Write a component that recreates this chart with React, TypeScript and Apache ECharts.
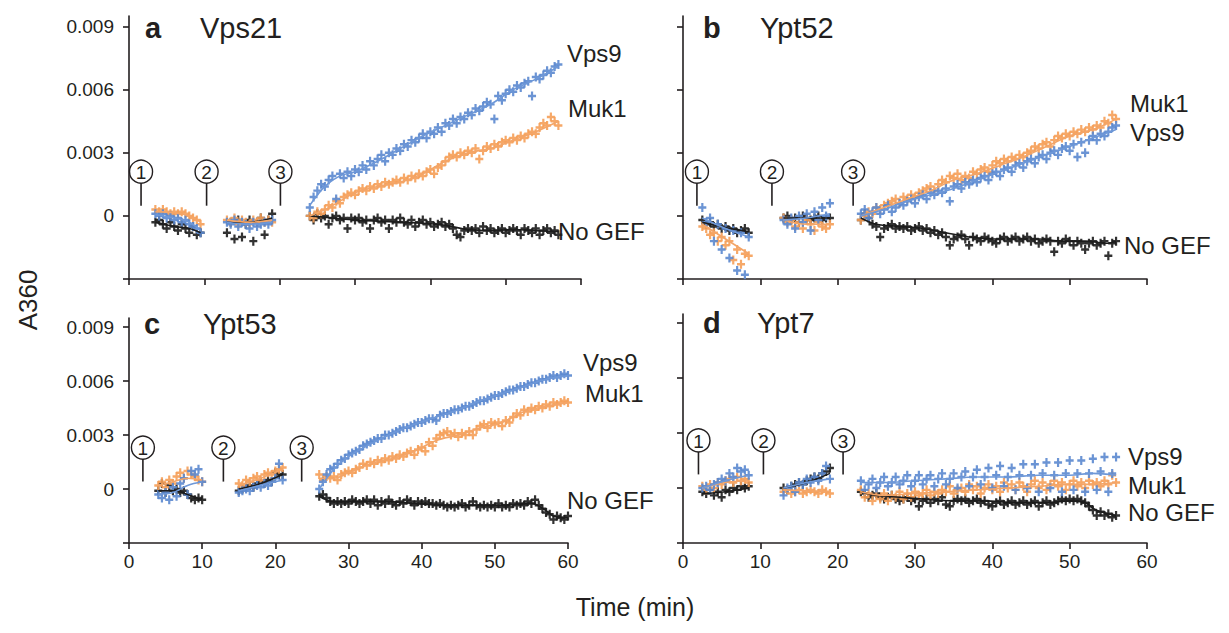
import React, { useEffect, useRef } from "react";
import * as echarts from "echarts";

// All absorbance values below are in units of 0.0001 A360.
const UNIT = 1e-4;
const STEP = 0.5; // minutes between readings

// ---------- Panel a : Vps21 ----------
const A_STARTS = [3.5, 13, 24];
const A_VPS9 = [
  [1, 0, 1, -1, 0, -2, -1, -3, -2, -4, -5, -6, -8],
  [-3, -4, -2, -5, -3, -4, -6, -3, -5, -4, -3, -4, -2],
  [4, 9, 12, 15, 14, 17, 19, 8, 20, 18, 21, 19, 22, 21, 24, 22, 26, 24, 27, 29, 26, 30, 29, 32, 31, 34, 33, 36, 35, 37, 39, 37, 40, 39, 42, 40, 44, 43, 46, 44, 47, 46, 49, 48, 51, 50, 52, 54, 53, 46, 57, 55, 58, 60, 59, 62, 61, 63, 64, 57, 66, 65, 67, 69, 68, 71, 72],
];
const A_MUK1 = [
  [3, 2, 3, 2, 1, 2, 1, 2, 1, 0, -1, -2, -4],
  [-2, -3, -1, -4, -2, -3, -4, -2, -3, -1, -3, -2, -3],
  [0, -1, 2, 1, 3, 5, 4, 7, 6, 9, 10, 11, 10, 12, 13, 12, 14, 13, 15, 14, 16, 15, 16, 17, 16, 18, 17, 19, 18, 20, 19, 21, 22, 20, 23, 24, 26, 28, 29, 28, 30, 29, 31, 30, 32, 27, 31, 33, 32, 34, 33, 35, 36, 35, 37, 36, 38, 37, 39, 40, 39, 42, 44, 43, 47, 45, 43],
];
const A_NOGEF = [
  [-3, -2, -4, -6, -3, -5, -7, -4, -6, -8, -5, -9, -8],
  [-8, -3, -11, -2, -10, -4, -2, -12, -3, -1, -9, -2, 1],
  [0, -2, 1, -1, 0, -4, -1, 0, -2, -1, -6, -1, -2, -1, -3, -2, -6, -2, -1, -3, -2, -6, -2, -3, -1, -3, -4, -2, -5, -3, -2, -4, -3, -5, -4, -3, -5, -4, -6, -9, -10, -7, -6, -7, -6, -8, -5, -7, -6, -8, -7, -6, -8, -7, -6, -7, -9, -6, -7, -8, -6, -9, -7, -6, -8, -7, -9],
];
const A_VPS9_FIT = [
  [[3.5, 0.5], [6, -1], [8, -3], [9.5, -7]],
  [[13, -3], [16, -4], [19, -3]],
  [[24, 5], [26, 14], [28, 19], [30, 21], [33, 26], [36, 32], [39, 38], [42, 43], [45, 48], [48, 53], [51, 60], [54, 65], [57, 71]],
];
const A_MUK1_FIT = [
  [[3.5, 2], [6, 1.5], [8, 0], [9.5, -3]],
  [[13, -2], [16, -3], [19, -2]],
  [[24, 0], [26, 3], [28, 7], [30, 11], [33, 14], [36, 16], [39, 20], [42, 26], [45, 30], [48, 32], [51, 36], [54, 40], [57, 45]],
];
const A_NOGEF_FIT = [
  [[3.5, -3], [6, -5], [8, -6], [9.5, -8]],
  [[13, -3], [16, -3], [19, -1]],
  [[24, 0], [27, -1], [30, -2], [33, -2.5], [36, -3], [39, -3.5], [42, -4.5], [45, -6.5], [48, -7], [51, -6.5], [54, -7], [57, -7.5]],
];
const A_ADDITIONS = [1.6, 10.3, 20.1];

// ---------- Panel b : Ypt52 ----------
const B_STARTS = [2.5, 13, 23];
const B_VPS9 = [
  [4, -3, -1, -12, -4, -16, -6, -20, -7, -26, -8, -28, -10],
  [-2, -4, -1, -6, 0, -3, 1, -7, 2, -2, 4, 0, 6],
  [1, 3, -1, 2, 4, 1, 3, 5, 2, 4, 6, 5, 7, 8, 6, 9, 10, 8, 11, 10, 12, 11, 13, 7, 14, 15, 13, 16, 15, 17, 16, 18, 19, 17, 20, 21, 19, 22, 23, 21, 24, 25, 23, 26, 27, 25, 28, 29, 27, 30, 31, 29, 32, 33, 31, 34, 28, 35, 30, 36, 38, 36, 39, 38, 40, 42, 43],
];
const B_MUK1 = [
  [-5, -6, -9, -8, -12, -10, -14, -12, -21, -16, -23, -18, -19],
  [-1, -3, -2, -5, -3, -6, -2, -4, -7, -3, -5, -6, -4],
  [-2, 0, 2, 1, 4, 3, 5, 6, 7, 8, 6, 9, 8, 10, 9, 11, 12, 13, 14, 12, 15, 17, 16, 19, 18, 20, 17, 19, 18, 21, 20, 22, 23, 21, 24, 26, 25, 27, 26, 28, 27, 29, 28, 30, 31, 33, 32, 34, 35, 33, 36, 38, 37, 39, 38, 40, 39, 41, 40, 42, 41, 43, 42, 45, 44, 48, 46],
];
const B_NOGEF = [
  [-2, -4, -3, -5, -4, -6, -5, -7, -6, -8, -7, -6, -8],
  [-1, 0, -2, -1, -3, 0, -1, -2, -1, 0, -2, -1, -1],
  [-2, 1, -1, -4, -5, -10, -6, -5, -4, -6, -5, -6, -5, -7, -6, -5, -7, -6, -8, -7, -9, -8, -10, -14, -11, -10, -9, -11, -14, -10, -11, -12, -10, -11, -12, -13, -11, -10, -12, -11, -10, -12, -11, -10, -12, -11, -13, -12, -11, -12, -17, -12, -13, -11, -12, -14, -12, -13, -16, -13, -12, -14, -13, -12, -19, -13, -12],
];
const B_VPS9_FIT = [
  [[2.5, -1], [5.5, -6], [8.5, -10]],
  [[13, -2], [16, -1], [19, 1]],
  [[23, 0], [26, 3], [29, 7], [32, 10], [35, 13], [38, 17], [41, 21], [44, 25], [47, 29], [50, 33], [53, 37], [56, 41]],
];
const B_MUK1_FIT = [
  [[2.5, -4], [5.5, -11], [8.5, -18]],
  [[13, -2], [16, -4], [19, -4]],
  [[23, 0], [26, 4], [29, 8], [32, 12], [35, 17], [38, 20], [41, 24], [44, 28], [47, 33], [50, 38], [53, 41], [56, 46]],
];
const B_NOGEF_FIT = [
  [[2.5, -3], [5.5, -5.5], [8.5, -7.5]],
  [[13, -1], [19, -1]],
  [[23, -1], [25, -4], [28, -5], [31, -6], [34, -8], [37, -10], [40, -11], [43, -11], [46, -11], [49, -12], [52, -12], [55, -13], [56, -12]],
];
const B_ADDITIONS = [1.8, 11.5, 22.0];

// ---------- Panel c : Ypt53 ----------
const C_STARTS = [4, 15, 26];
const C_VPS9 = [
  [-3, -5, -2, -6, 1, -4, 3, 6, -3, 10, 8, 11, 4],
  [-2, -1, 0, -1, 1, 2, 1, 3, 2, 4, 6, 14, 5],
  [0, 4, 8, 11, 12, 14, 16, 17, 19, 20, 21, 22, 24, 25, 26, 27, 28, 28, 30, 30, 31, 32, 33, 34, 34, 35, 36, 37, 37, 38, 39, 39, 38, 41, 42, 42, 43, 44, 44, 45, 46, 46, 47, 48, 49, 49, 50, 51, 52, 52, 53, 54, 55, 55, 56, 57, 57, 58, 59, 59, 60, 61, 61, 62, 63, 62, 63, 64, 63],
];
const C_MUK1 = [
  [2, 4, 1, 5, 3, 7, 9, 6, 10, 8, 7, 5, 4],
  [3, 2, 5, 4, 6, 7, 5, 8, 9, 8, 10, 11, 12],
  [8, 5, 7, 6, 7, 5, 8, 9, 10, 9, 11, 12, 14, 13, 15, 14, 16, 15, 17, 16, 18, 17, 19, 18, 20, 21, 19, 22, 23, 21, 26, 24, 28, 30, 31, 32, 30, 31, 29, 31, 30, 32, 30, 33, 35, 36, 34, 37, 36, 37, 35, 38, 37, 40, 42, 41, 44, 43, 45, 44, 46, 45, 47, 46, 48, 47, 48, 49, 48],
];
const C_NOGEF = [
  [-1, 3, -2, 2, -1, 0, -2, -1, -3, -5, -6, -5, -6],
  [-1, 0, 1, 2, 1, 3, 4, 3, 5, 4, 9, 8, 8],
  [-4, -3, -5, -7, -8, -7, -8, -7, -8, -6, -7, -8, -7, -6, -8, -6, -9, -7, -8, -6, -8, -9, -7, -8, -6, -7, -9, -7, -8, -7, -8, -8, -9, -8, -9, -10, -9, -10, -9, -8, -10, -9, -7, -9, -10, -9, -10, -9, -10, -8, -10, -9, -10, -8, -9, -8, -9, -7, -8, -6, -9, -11, -13, -14, -17, -15, -16, -17, -15],
];
const C_VPS9_FIT = [
  [[4, -3], [6, -2], [8, 2], [10, 4]],
  [[15, -1], [18, 2], [21, 5]],
  [[26, 0], [28, 11], [30, 18], [33, 25], [36, 31], [39, 36], [42, 40], [45, 44], [48, 49], [51, 53], [54, 57], [57, 61], [60, 63]],
];
const C_MUK1_FIT = [
  [[4, 2], [6, 4], [8, 6], [10, 5]],
  [[15, 2], [18, 6], [21, 11]],
  [[26, 6], [28, 6], [30, 9], [33, 14], [36, 17], [39, 21], [42, 27], [45, 30], [48, 34], [51, 37], [54, 43], [57, 46], [60, 48]],
];
const C_NOGEF_FIT = [
  [[4, -1], [6, -1], [8, -3], [10, -6]],
  [[15, 0], [18, 3], [21, 8]],
  [[26, -4], [28, -7], [31, -7], [35, -7], [39, -8], [43, -9], [47, -9], [51, -9], [55, -8], [57, -12], [58, -15], [60, -16]],
];
const C_ADDITIONS = [1.9, 12.9, 23.6];

// ---------- Panel d : Ypt7 ----------
const D_STARTS = [2.5, 13, 23];
const D_VPS9 = [
  [0, 1, -1, 2, 3, 5, 4, 8, 6, 11, 9, 10, 7],
  [-4, 0, 1, -2, 3, 2, 5, 3, 6, 4, 8, 12, 5],
  [4, -1, 2, 5, 0, 3, 6, 1, 3, 6, 2, 4, 7, 1, 4, 7, 2, 5, 7, 1, 5, 8, 2, 5, 8, 0, 6, 9, 1, 6, 10, 2, 6, 11, 0, 7, 12, 1, 6, 11, -1, 7, 13, 0, 7, 13, -2, 8, 14, 0, 7, 14, -2, 8, 15, -1, 8, 15, -2, 8, 16, -1, 9, 17, -2, 8, 17],
];
const D_MUK1 = [
  [1, -1, 2, 0, 3, 2, 4, 5, 3, 6, 4, 5, 3],
  [-2, -1, -3, -2, -1, -3, -2, -1, -2, -3, -1, -2, -3],
  [-1, -5, -3, -7, -4, -6, -3, -7, -4, -5, -2, -6, -3, -5, -2, -4, -3, -1, -4, -2, -3, -1, -2, 1, -3, -1, 0, -2, 2, -1, 1, -3, 0, 2, -1, 1, -2, 3, 0, 2, -1, 3, 1, -2, 2, 4, 0, 3, -1, 2, 4, 1, 3, -1, 2, 4, 1, 3, 0, 4, 2, 3, 1, 4, 2, 7, 3],
];
const D_NOGEF = [
  [-2, -3, -1, -4, -2, -5, -1, -2, 0, -1, 1, 0, 1],
  [0, -1, 1, 2, 3, 2, 4, 5, 6, 5, 8, 9, 11],
  [-2, -3, -5, -4, -3, -5, -6, -5, -4, -6, -7, -6, -5, -7, -6, -10, -7, -6, -8, -6, -7, -5, -9, -10, -7, -6, -7, -6, -8, -7, -6, -8, -7, -9, -10, -8, -7, -9, -8, -7, -9, -8, -7, -9, -8, -7, -10, -8, -7, -9, -8, -7, -6, -7, -6, -7, -6, -7, -8, -10, -12, -15, -13, -15, -14, -16, -15],
];
const D_VPS9_FIT = [
  [[2.5, 0], [5.5, 4], [8.5, 7]],
  [[13, 0], [16, 3], [19, 5]],
  [[23, 3], [26, 3], [30, 4], [34, 5], [38, 6], [42, 6], [46, 7], [50, 7], [53, 8], [56, 7]],
];
const D_MUK1_FIT = [
  [[2.5, 0], [5.5, 3], [8.5, 4]],
  [[13, -1], [19, -2]],
  [[23, -2], [26, -4], [30, -3], [34, -2], [38, -1], [42, 0], [46, 1], [50, 2], [53, 2], [56, 3]],
];
const D_NOGEF_FIT = [
  [[2.5, -3], [5.5, -2], [8.5, 0]],
  [[13, 0], [16, 3], [19, 8]],
  [[23, -2], [25, -4], [28, -5], [31, -6], [35, -7], [39, -7], [43, -8], [47, -8], [50, -7], [52, -8], [53, -11], [54, -13], [56, -15]],
];
const D_ADDITIONS = [2.0, 10.4, 20.7];

// Axis ticks
const X_TICKS = [0, 10, 20, 30, 40, 50, 60];
const Y_TICKS = [-0.003, 0, 0.003, 0.006, 0.009];
const Y_LABELS = [0, 0.003, 0.006, 0.009];
const PANEL_LETTERS = ["a", "b", "c", "d"];
const PANEL_NAMES = ["Vps21", "Ypt52", "Ypt53", "Ypt7"];
const SERIES_NAMES = ["Vps9", "Muk1", "No GEF"];

// ---------- styling / layout ----------
const FONT = '"Liberation Sans", Arial, Helvetica, sans-serif';
const INK = "#231f20";
const COLORS = ["#5b88cf", "#f59f58", "#1c1c1c"];
const FIT_COLORS = ["#6e98d8", "#f3a568", "#1c1c1c"];
const PLUS = "path://M2.9,0h2.2v2.9h2.9v2.2h-2.9v2.9h-2.2v-2.9h-2.9v-2.2h2.9z";

const GRIDS = [
  { left: 129, top: 16, width: 452, height: 263 },
  { left: 683, top: 16, width: 464, height: 263 },
  { left: 129, top: 318, width: 439, height: 225 },
  { left: 683, top: 314, width: 464, height: 229 },
];
const MARK_Y = [21, 21, 23, 26]; // circle centre, in 1e-4 A360 units

const PANELS = [
  { starts: A_STARTS, vals: [A_VPS9, A_MUK1, A_NOGEF], fits: [A_VPS9_FIT, A_MUK1_FIT, A_NOGEF_FIT], adds: A_ADDITIONS },
  { starts: B_STARTS, vals: [B_VPS9, B_MUK1, B_NOGEF], fits: [B_VPS9_FIT, B_MUK1_FIT, B_NOGEF_FIT], adds: B_ADDITIONS },
  { starts: C_STARTS, vals: [C_VPS9, C_MUK1, C_NOGEF], fits: [C_VPS9_FIT, C_MUK1_FIT, C_NOGEF_FIT], adds: C_ADDITIONS },
  { starts: D_STARTS, vals: [D_VPS9, D_MUK1, D_NOGEF], fits: [D_VPS9_FIT, D_MUK1_FIT, D_NOGEF_FIT], adds: D_ADDITIONS },
];

// label placement (annotation text, pixels)
const LABEL_POS = [
  [[567, 53], [568, 108], [558, 231]],
  [[1130, 132], [1130, 103], [1124, 245]],
  [[583, 362], [585, 393], [567, 500]],
  [[1128, 456], [1128, 485], [1128, 512]],
];
const TITLE_POS = [
  [145, 28, 200],
  [703, 28, 760],
  [144, 324, 203],
  [703, 323, 757],
];

function buildOption() {
  const series: any[] = [];
  PANELS.forEach((p, gi) => {
    // scatter (readings)
    [2, 1, 0].forEach((si) => {
      const data: number[][] = [];
      p.vals[si].forEach((seg, k) => {
        seg.forEach((v, j) => data.push([p.starts[k] + j * STEP, v * UNIT]));
      });
      series.push({
        type: "scatter",
        xAxisIndex: gi,
        yAxisIndex: gi,
        symbol: PLUS,
        symbolSize: [8, 9],
        itemStyle: { color: COLORS[si], opacity: 0.9 },
        data,
        z: 2,
        silent: true,
      });
    });
    // fit lines
    [2, 1, 0].forEach((si) => {
      p.fits[si].forEach((seg) => {
        series.push({
          type: "line",
          xAxisIndex: gi,
          yAxisIndex: gi,
          showSymbol: false,
          symbol: "none",
          smooth: 0.35,
          lineStyle: { color: FIT_COLORS[si], width: 1.6 },
          data: seg.map((d) => [d[0], d[1] * UNIT]),
          z: 3,
          silent: true,
        });
      });
    });
    // addition markers: stems
    series.push({
      type: "custom",
      xAxisIndex: gi,
      yAxisIndex: gi,
      clip: false,
      z: 4,
      silent: true,
      data: p.adds.map((t) => [t, MARK_Y[gi] * UNIT]),
      renderItem: (params: any, api: any) => {
        const c = api.coord([api.value(0), api.value(1)]);
        return {
          type: "line",
          shape: { x1: c[0], y1: c[1] + 11.5, x2: c[0], y2: c[1] + 34 },
          style: { stroke: INK, lineWidth: 1.6 },
        };
      },
    });
    // addition markers: numbered circles
    series.push({
      type: "scatter",
      xAxisIndex: gi,
      yAxisIndex: gi,
      z: 5,
      silent: true,
      symbol: "circle",
      symbolSize: 23,
      itemStyle: { color: "#fff", borderColor: INK, borderWidth: 1.4, opacity: 1 },
      label: {
        show: true,
        position: "inside",
        formatter: (d: any) => String(d.dataIndex + 1),
        fontSize: 19,
        fontFamily: FONT,
        color: INK,
        offset: [0, 1],
      },
      data: p.adds.map((t) => [t, MARK_Y[gi] * UNIT]),
    });
  });

  const graphic: any[] = [];
  PANELS.forEach((_, gi) => {
    const tp = TITLE_POS[gi];
    graphic.push({
      type: "text", x: tp[0], y: tp[1],
      style: { text: PANEL_LETTERS[gi], fontSize: 29, fontWeight: "bold", fontFamily: FONT, fill: INK, verticalAlign: "middle" },
    });
    graphic.push({
      type: "text", x: tp[2], y: tp[1],
      style: { text: PANEL_NAMES[gi], fontSize: 29, fontFamily: FONT, fill: INK, verticalAlign: "middle" },
    });
    LABEL_POS[gi].forEach((pos, si) => {
      graphic.push({
        type: "text", x: pos[0], y: pos[1],
        style: { text: SERIES_NAMES[si], fontSize: 24, fontFamily: FONT, fill: INK, verticalAlign: "middle" },
      });
    });
  });
  graphic.push({
    type: "text", x: 28, y: 300, rotation: Math.PI / 2,
    style: { text: "A360", fontSize: 26, fontFamily: FONT, fill: INK, align: "center", verticalAlign: "middle" },
  });
  graphic.push({
    type: "text", x: 635, y: 607,
    style: { text: "Time (min)", fontSize: 25, fontFamily: FONT, fill: INK, align: "center", verticalAlign: "middle" },
  });

  const axisLine = { show: true, onZero: false, lineStyle: { color: INK, width: 1.6 } };
  return {
    animation: false,
    backgroundColor: "#fff",
    grid: GRIDS.map((g) => ({ ...g, containLabel: false })),
    xAxis: GRIDS.map((_, gi) => ({
      type: "value",
      gridIndex: gi,
      min: X_TICKS[0],
      max: X_TICKS[X_TICKS.length - 1],
      interval: 10,
      axisLine,
      axisTick: { show: true, length: 6, lineStyle: { color: INK, width: 1.6 } },
      axisLabel: { show: gi >= 2, fontSize: 19, fontFamily: FONT, color: INK, margin: 9 },
      splitLine: { show: false },
    })),
    yAxis: GRIDS.map((_, gi) => ({
      type: "value",
      gridIndex: gi,
      min: -0.003,
      max: 0.0095,
      interval: 0.003,
      axisLine,
      axisTick: { show: true, length: 6, lineStyle: { color: INK, width: 1.6 }, customValues: Y_TICKS },
      axisLabel: {
        show: gi % 2 === 0,
        customValues: Y_LABELS,
        fontSize: 19,
        fontFamily: FONT,
        color: INK,
        margin: 15,
        formatter: (v: number) => {
          const r = Math.round(v * 1000) / 1000;
          if (Math.abs(v - r) > 1e-7 || r < 0) return "";
          return r === 0 ? "0" : r.toFixed(3);
        },
      },
      splitLine: { show: false },
    })),
    series,
    graphic,
  };
}

export default function App() {
  const ref = useRef<HTMLDivElement>(null);
  useEffect(() => {
    if (!ref.current) return;
    const chart = echarts.init(ref.current, null, { renderer: "svg" });
    chart.setOption(buildOption() as any);
    return () => chart.dispose();
  }, []);
  return (
    <div
      ref={ref}
      style={{ position: "fixed", left: 0, top: 0, width: 1229, height: 633, background: "#fff" }}
    />
  );
}
